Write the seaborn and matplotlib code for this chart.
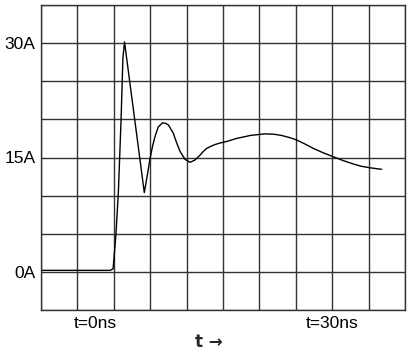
import matplotlib
matplotlib.use("Agg")
import matplotlib.pyplot as plt
import seaborn as sns
import pandas as pd
from matplotlib.ticker import MultipleLocator, FixedLocator, FuncFormatter, FixedFormatter

# ---- data (time in ns, current in A) ----
t_ns = [-10.0, -2.0, -0.5, -0.1, 0.3, 0.62, 1.0, 1.25, 1.47, 1.7, 2.8, 4.19,
        4.5, 4.97, 5.3, 5.65, 6.1, 6.7, 7.2, 7.5, 8.17, 8.64, 9.1, 9.78,
        10.47, 11.15, 11.84, 12.3, 12.76, 13.3, 13.9, 14.6, 15.5, 16.86,
        18.8, 20.77, 22.0, 23.0, 24.2, 25.1, 26.3, 27.4, 28.8, 30.15,
        31.5, 32.9, 34.0, 35.2, 36.0, 36.8]
current_A = [0.2, 0.2, 0.2, 0.4, 5.0, 10.3, 20.0, 28.0, 30.15, 28.5, 20.5, 10.4,
             12.1, 14.8, 16.4, 17.7, 19.0, 19.56, 19.45, 19.26, 18.2, 16.9, 15.8, 14.76,
             14.37, 14.67, 15.3, 15.8, 16.2, 16.45, 16.7, 16.9, 17.1, 17.5,
             17.9, 18.1, 18.05, 17.9, 17.6, 17.3, 16.75, 16.2, 15.6, 15.1,
             14.6, 14.15, 13.85, 13.65, 13.55, 13.45]

y_tick_labels = {0: "0A", 15: "15A", 30: "30A"}
x_tick_labels = {30: "t=30ns"}
x_start_label = "t=0ns"
x_start_pos = -2.5
axis_label = "t \u2192"

df = pd.DataFrame({"t": t_ns, "I": current_A})

sns.set_style("white")
plt.rcParams["font.family"] = ["Liberation Sans", "DejaVu Sans"]

fig = plt.figure(figsize=(4.08, 3.55), dpi=100)
ax = fig.add_axes([41 / 408, 1 - 310 / 355, 364 / 408, 305 / 355])

sns.lineplot(data=df, x="t", y="I", ax=ax, color="black", linewidth=1.0,
             estimator=None, sort=False)

ax.set_xlim(-10, 40)
ax.set_ylim(-5, 35)

ax.xaxis.set_major_locator(MultipleLocator(5))
ax.yaxis.set_major_locator(MultipleLocator(5))
ax.grid(True, which="major", color="#333333", linewidth=1.0)
ax.set_axisbelow(True)

ax.yaxis.set_major_formatter(FuncFormatter(
    lambda v, p: y_tick_labels.get(int(round(v)), "")))
ax.xaxis.set_major_formatter(FuncFormatter(
    lambda v, p: x_tick_labels.get(int(round(v)), "")))
ax.xaxis.set_minor_locator(FixedLocator([x_start_pos]))
ax.xaxis.set_minor_formatter(FixedFormatter([x_start_label]))

ax.tick_params(which="both", length=0, colors="black")
ax.tick_params(axis="y", which="major", labelsize=12.5, pad=4)
ax.tick_params(axis="x", which="both", labelsize=12.5, pad=4)

for s in ax.spines.values():
    s.set_color("#333333")
    s.set_linewidth(1.0)

ax.set_xlabel("")
ax.set_ylabel("")

fig.text(209 / 408, 1 - 342 / 355, axis_label, ha="center", va="center",
         fontsize=12, fontweight="bold", family=["DejaVu Sans"])

fig.savefig("out.png", dpi=100, facecolor="white")
